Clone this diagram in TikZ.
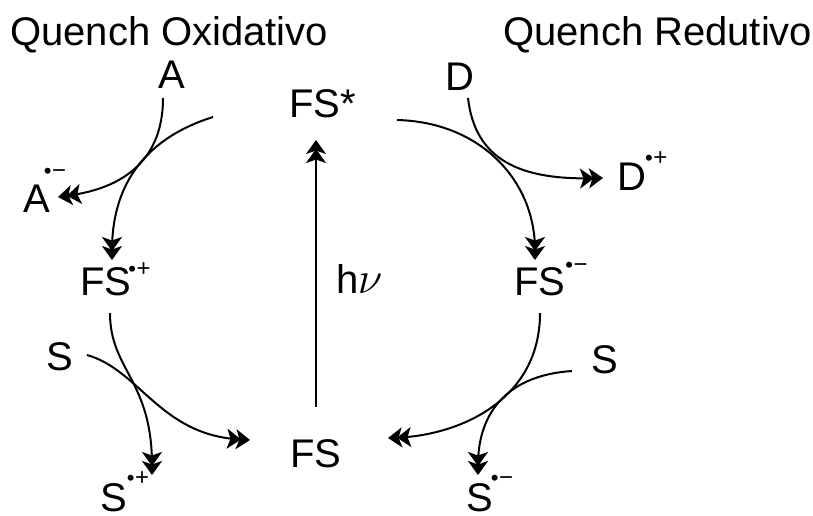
\documentclass[tikz,border=0pt]{standalone}
\usepackage{fontspec}
\usepackage{graphicx}
\setmainfont{Liberation Sans}
\usetikzlibrary{arrows.meta}
\newcommand{\rad}[2]{\raisebox{#1}{\fontsize{22}{22}\selectfont •\kern0.5pt\fontsize{24}{24}\selectfont #2}}
\begin{document}
\begin{tikzpicture}[x=1pt,y=-1pt,
  lbl/.style={anchor=base west,inner sep=0pt,font=\fontsize{40}{48}\selectfont},
  arc/.style={line width=2pt,-{Stealth[length=14pt,width=20pt,inset=3.5pt,sep=-5pt]Stealth[length=14pt,width=20pt,inset=3.5pt]}}]
\useasboundingbox (0,0) rectangle (813,515);
\node[lbl] (t1) at (10,45) {Quench Oxidativo};
\node[lbl] (t2) at (503,45) {Quench Redutivo};
\node[lbl] (A) at (158,88) {A};
\node[lbl] (Aneg) at (23,212) {A\kern-6pt\rad{34pt}{−}};
\node[lbl] (FSp) at (80,295) {FS\kern-3pt\rad{19pt}{+}};
\node[lbl] (D) at (445,90) {D};
\node[lbl] (Dp) at (617,190) {D\kern-1pt\rad{25pt}{+}};
\node[lbl] (FSn) at (514,295) {FS\kern0pt\rad{23pt}{−}};
\node[lbl] (Sl) at (46,370) {S};
\node[lbl] (Sp) at (100,511) {S\kern0pt\rad{26pt}{+}};
\node[lbl] (FS) at (290,467) {FS};
\node[lbl] (Sr) at (591,373) {S};
\node[lbl] (Sn) at (466,511) {S\kern-2pt\rad{26pt}{−}};
\node[lbl] (FSs) at (289,117) {FS*};
\node[lbl] (hnu) at (336,293) {h\kern-0.5pt\scalebox{1.8}{$\nu$}};
% coordinates
\coordinate (a1) at (213,117); \coordinate (a1e) at (112,260);
\coordinate (a2) at (163,98);  \coordinate (a2e) at (58,197);
\coordinate (b1) at (397,120); \coordinate (b1e) at (535,260);
\coordinate (b2) at (468,98);  \coordinate (b2e) at (603,178);
\coordinate (c1) at (110,313); \coordinate (c1e) at (152,475);
\coordinate (c2) at (87,355);  \coordinate (c2e) at (250,440);
\coordinate (d1) at (540,313); \coordinate (d1e) at (388,438);
\coordinate (d2) at (572,371); \coordinate (d2e) at (478,475);
\coordinate (v1) at (316,407); \coordinate (v1e) at (316,140);
\draw[arc] (a1) .. controls (140,140) and (112,190) .. (a1e);
\draw[arc] (a2) .. controls (163,170) and (110,190) .. (a2e);
\draw[arc] (b1) .. controls (480,122) and (535,180) .. (b1e);
\draw[arc] (b2) .. controls (475,160) and (520,180) .. (b2e);
\draw[arc] (c1) .. controls (110,370) and (152,380) .. (c1e);
\draw[arc] (c2) .. controls (140,370) and (160,435) .. (c2e);
\draw[arc] (d1) .. controls (540,400) and (460,435) .. (d1e);
\draw[arc] (d2) .. controls (510,375) and (478,410) .. (d2e);
\draw[arc] (v1) -- (v1e);
\end{tikzpicture}
\end{document}
